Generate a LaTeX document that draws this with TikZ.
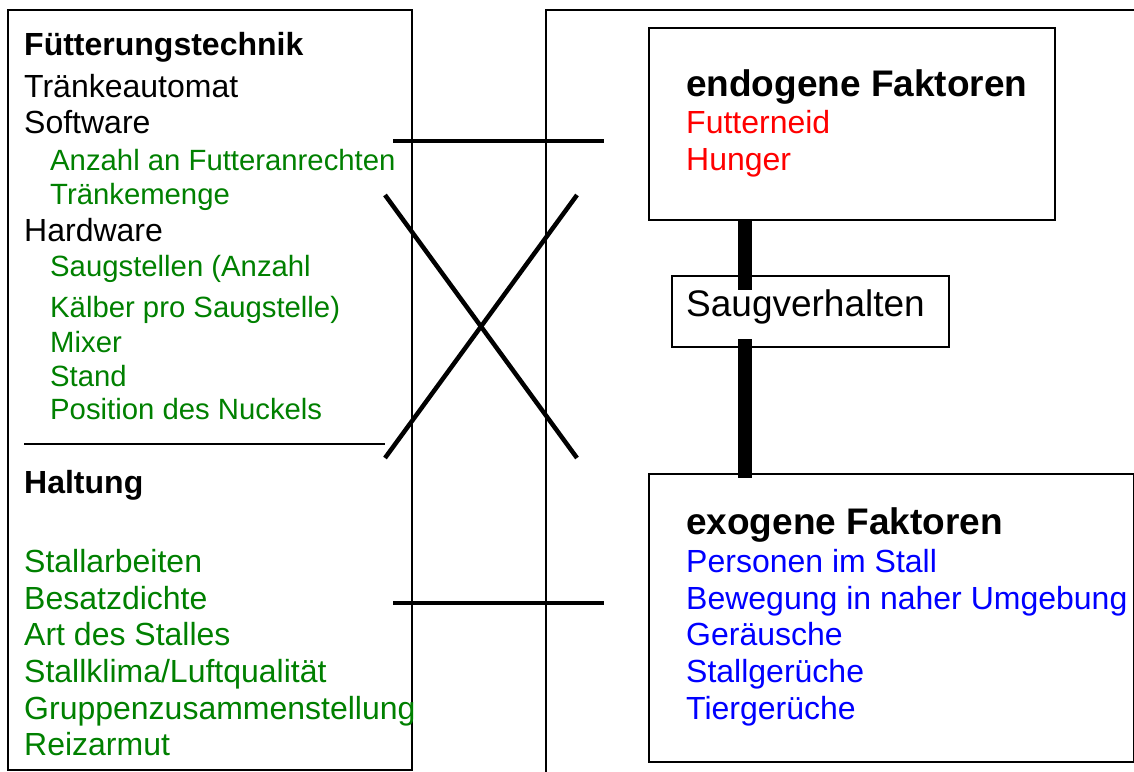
\documentclass[tikz,border=0pt]{standalone}
\usepackage{fontspec}
\setmainfont{Liberation Sans}
\definecolor{dgreen}{RGB}{0,128,0}
\begin{document}
\begin{tikzpicture}[x=1pt,y=-1pt,
  txt/.style={anchor=base west,inner sep=0pt,font=\fontsize{32}{36}\selectfont},
  big/.style={anchor=base west,inner sep=0pt,font=\fontsize{37}{40}\selectfont},
  gr/.style={txt,text=dgreen},
  sub/.style={anchor=base west,inner sep=0pt,font=\fontsize{29.3}{33}\selectfont,text=dgreen},
  bx/.style={draw,line width=1.5pt},
  link/.style={line width=4.5pt},
  thick link/.style={line width=14pt}]
\useasboundingbox (0,0) rectangle (1134,771);
% left box
\draw[bx] (8,10) rectangle (412,770);
\coordinate (sepA) at (24,444);
\coordinate (sepB) at (385,444);
\draw[line width=1.5pt] (sepA) -- (sepB);
% right frame
\draw[line width=1.5pt] (546,780) -- (546,10) -- (1140,10);
% left texts
\node[txt,font=\fontsize{32}{36}\selectfont\bfseries] (t1) at (24,55) {Fütterungstechnik};
\node[txt] (t2) at (24,97) {Tränkeautomat};
\node[txt] (t3) at (24,133) {Software};
\node[sub] (t4) at (50,170) {Anzahl an Futteranrechten};
\node[sub] (t5) at (50,204) {Tränkemenge};
\node[txt] (t6) at (24,241) {Hardware};
\node[sub] (t7) at (50,276) {Saugstellen (Anzahl};
\node[sub] (t8) at (50,317) {Kälber pro Saugstelle)};
\node[sub] (t9) at (50,352) {Mixer};
\node[sub] (t10) at (50,386) {Stand};
\node[sub] (t11) at (50,419) {Position des Nuckels};
\node[txt,font=\fontsize{32}{36}\selectfont\bfseries] (h1) at (24,493) {Haltung};
\node[gr] (h2) at (24,572) {Stallarbeiten};
\node[gr] (h3) at (24,609) {Besatzdichte};
\node[gr] (h4) at (24,645) {Art des Stalles};
\node[gr] (h5) at (24,682) {Stallklima/Luftqualität};
\node[gr] (h6) at (24,719) {Gruppenzusammenstellung};
\node[gr] (h7) at (24,755) {Reizarmut};
% right boxes
\node[bx,minimum width=406pt,minimum height=192pt,inner sep=0pt] (endo) at (852,124) {};
\node[bx,minimum width=277pt,minimum height=71pt,inner sep=0pt] (saug) at (810.5,311.5) {};
\node[bx,minimum width=485pt,minimum height=288pt,inner sep=0pt] (exo) at (891.5,618) {};
\node[big,font=\fontsize{37}{40}\selectfont\bfseries] (e1) at (686,96) {endogene Faktoren};
\node[txt,text=red] (e2) at (686,133) {Futterneid};
\node[txt,text=red] (e3) at (686,170) {Hunger};
\node[big] (s1) at (686,316) {Saugverhalten};
\node[big,font=\fontsize{37}{40}\selectfont\bfseries] (x1) at (686,534) {exogene Faktoren};
\node[txt,text=blue] (x2) at (686,572) {Personen im Stall};
\node[txt,text=blue] (x3) at (686,609) {Bewegung in naher Umgebung};
\node[txt,text=blue] (x4) at (686,645) {Geräusche};
\node[txt,text=blue] (x5) at (686,682) {Stallgerüche};
\node[txt,text=blue] (x6) at (686,719) {Tiergerüche};
% thick connectors
\coordinate (c1a) at (745,220);
\coordinate (c1b) at (745,290);
\coordinate (c2a) at (745,339);
\coordinate (c2b) at (745,478);
\draw[thick link] (c1a) -- (c1b);
\draw[thick link] (c2a) -- (c2b);
% cross links
\coordinate (ha1) at (393,141);
\coordinate (hb1) at (604,141);
\coordinate (ha2) at (393,603);
\coordinate (hb2) at (604,603);
\coordinate (xa) at (385,195);
\coordinate (xb) at (577,458);
\coordinate (xc) at (577,195);
\coordinate (xd) at (385,458);
\draw[link] (ha1) -- (hb1);
\draw[link] (ha2) -- (hb2);
\draw[link] (xa) -- (xb);
\draw[link] (xc) -- (xd);
\end{tikzpicture}
\end{document}
